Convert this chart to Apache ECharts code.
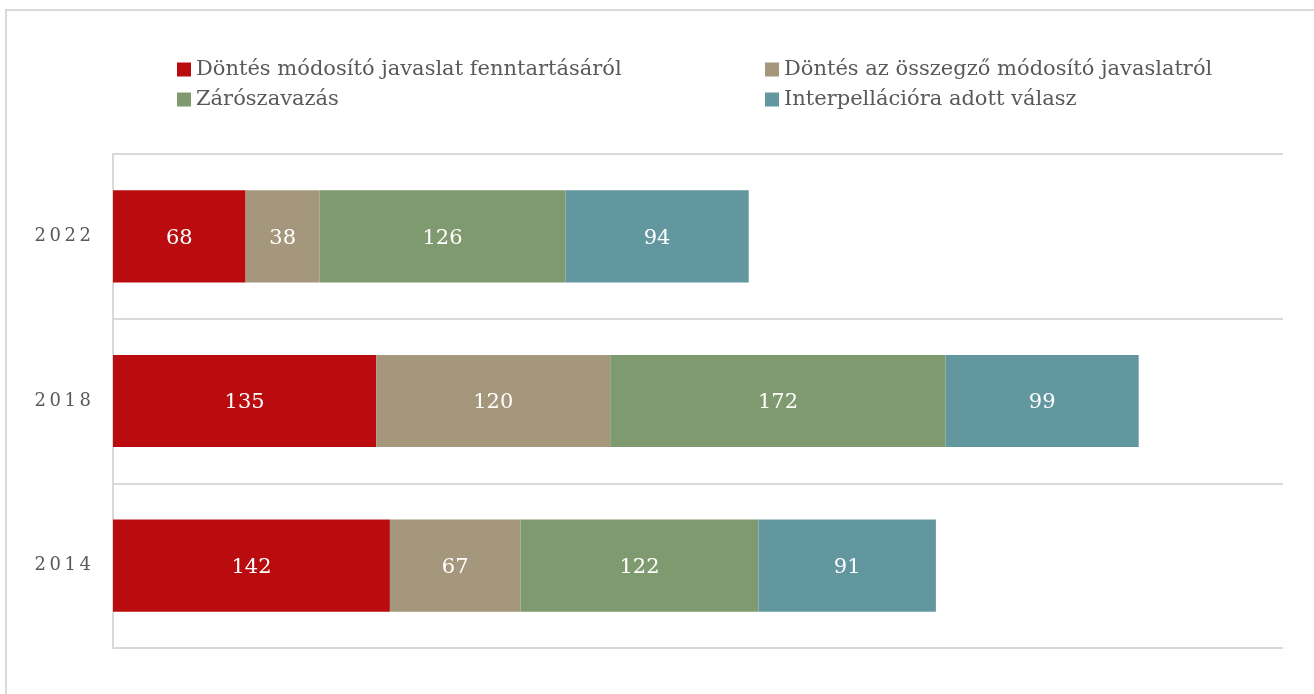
<!DOCTYPE html>
<html><head><meta charset="utf-8">
<script src="https://cdn.jsdelivr.net/npm/echarts@6/dist/echarts.min.js"></script>
<style>html,body{margin:0;padding:0;background:#fff}#c{width:1314px;height:694px}</style>
</head><body><div id="c"></div>
<script>
const years = ['2014', '2018', '2022'];
const seriesNames = ['Döntés módosító javaslat fenntartásáról', 'Döntés az összegző módosító javaslatról', 'Zárószavazás', 'Interpellációra adott válasz'];
const s1 = [142, 135, 68];
const s2 = [67, 120, 38];
const s3 = [122, 172, 126];
const s4 = [91, 99, 94];
const values = [s1, s2, s3, s4];
const colors = ['#BA0C0F', '#A5977B', '#7F9A6F', '#6397A0'];
const serif = 'Georgia, "DejaVu Serif", serif';

const chart = echarts.init(document.getElementById('c'));
chart.setOption({
  animation: false,
  graphic: [{type: 'rect', shape: {x: 6, y: 10, width: 1330, height: 700}, style: {fill: 'none', stroke: '#d9d9d9', lineWidth: 2}, silent: true}],
  legend: [
    {left: 172, top: 54, orient: 'vertical', itemGap: 9, itemWidth: 14, itemHeight: 14, icon: 'rect',
     data: [seriesNames[0], seriesNames[2]], textStyle: {fontFamily: serif, fontSize: 21, color: '#595959'}},
    {left: 760, top: 54, orient: 'vertical', itemGap: 9, itemWidth: 14, itemHeight: 14, icon: 'rect',
     data: [seriesNames[1], seriesNames[3]], textStyle: {fontFamily: serif, fontSize: 21, color: '#595959'}}
  ],
  grid: {left: 113, top: 154, right: 31, bottom: 46, containLabel: false},
  xAxis: {type: 'value', min: 0, max: 600, show: false, splitLine: {show: false}},
  yAxis: {
    type: 'category', data: years,
    axisLine: {show: true, lineStyle: {color: '#d9d9d9', width: 2}},
    axisTick: {show: false},
    splitLine: {show: true, lineStyle: {color: '#d9d9d9', width: 2}},
    axisLabel: {margin: 22, fontFamily: serif, fontSize: 18, color: '#595959', padding: [6, 0, 0, 0],
      formatter: v => v.split('').join('\u2009')}
  },
  series: values.map((v, i) => ({
    name: seriesNames[i], type: 'bar', stack: 'total', data: v, barWidth: '56%',
    itemStyle: {color: colors[i]},
    label: {show: true, position: 'inside', offset: [0, 2], color: '#fff', fontFamily: serif, fontSize: 21}
  }))
});
</script></body></html>
